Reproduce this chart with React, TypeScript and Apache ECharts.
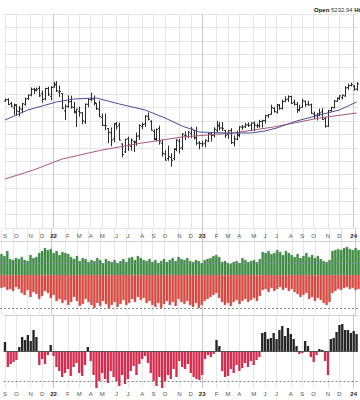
import React, { useEffect, useRef } from "react";
import * as echarts from "echarts";

// ---- categories: weekly bars, week starting Monday ----
const START = Date.UTC(2021, 7, 30);
const DAY = 86400000;
const N_WEEKS = 124;
const weekDates: string[] = Array.from({ length: N_WEEKS }, (_, i) =>
  new Date(START + i * 7 * DAY).toISOString().slice(0, 10)
);
const MONTH_LETTERS = ["J", "F", "M", "A", "M", "J", "J", "A", "S", "O", "N", "D"];
const monthLabels: string[] = weekDates.map((d) => {
  const t0 = Date.parse(d + "T00:00:00Z");
  for (let k = 0; k < 7; k++) {
    const dd = new Date(t0 + k * DAY);
    if (dd.getUTCDate() === 1)
      return dd.getUTCMonth() === 0 ? String(dd.getUTCFullYear()).slice(2) : MONTH_LETTERS[dd.getUTCMonth()];
  }
  return "";
});

// ---- weekly OHLC ----
const opens = [4513,4535,4474,4402,4442,4348,4385,4463,4553,4610,4701,4689,4712,4628,4548,4710,4588,4733,4778,4655,4632,4357,4431,4505,4412,4332,4354,4328,4188,4462,4541,4547,4474,4385,4255,4130,4082,4014,3920,4151,4134,3839,3715,3920,3800,3880,3883,3965,4112,4155,4271,4195,4035,3910,4084,3849,3682,3610,3627,3609,3762,3882,3780,3977,3956,4005,4052,3939,3854,3843,3853,3884,3996,3979,4055,4119,4091,4051,3992,4055,3855,3917,3983,4103,4110,4140,4134,4166,4124,4126,4190,4206,4282,4308,4396,4337,4450,4394,4508,4543,4585,4492,4461,4380,4416,4511,4464,4454,4310,4284,4289,4343,4239,4120,4364,4407,4509,4555,4564,4593,4725,4759,4745,4703];
const highs = [4545,4549,4492,4465,4457,4429,4475,4559,4608,4718,4714,4718,4743,4672,4713,4731,4741,4808,4818,4749,4632,4453,4595,4590,4490,4386,4416,4330,4465,4546,4637,4593,4475,4513,4308,4308,4082,4090,4158,4178,4168,3839,3913,3946,3918,3880,4012,4140,4167,4280,4325,4203,4062,4076,4119,3906,3736,3807,3685,3764,3906,3911,4001,4028,4034,4100,4053,4101,3877,3878,3906,4003,4015,4094,4195,4176,4176,4051,4049,4079,3965,4040,4110,4133,4163,4170,4170,4186,4154,4212,4212,4290,4299,4448,4408,4458,4456,4527,4578,4595,4588,4527,4491,4448,4541,4514,4511,4466,4338,4319,4386,4394,4256,4366,4415,4521,4560,4595,4609,4739,4778,4793,4755,4802];
const lows = [4513,4458,4427,4306,4288,4279,4329,4448,4537,4595,4630,4672,4585,4495,4532,4600,4531,4733,4662,4582,4395,4223,4415,4401,4327,4114,4276,4157,4161,4424,4517,4450,4381,4267,4128,4062,3859,3811,3875,4074,3900,3637,3705,3738,3742,3722,3818,3910,4079,4112,4218,4057,3907,3887,3837,3647,3585,3584,3491,3590,3733,3698,3750,3906,3938,3938,3918,3827,3764,3800,3794,3877,3885,3949,4021,4060,4048,3943,3928,3847,3808,3905,3951,4069,4098,4114,4049,4048,4099,4103,4103,4166,4258,4305,4341,4328,4384,4389,4505,4507,4474,4450,4335,4357,4415,4431,4447,4317,4238,4216,4283,4223,4104,4113,4354,4406,4507,4538,4547,4588,4695,4751,4682,4681];
const closes = [4535,4459,4433,4455,4357,4391,4471,4545,4605,4697,4682,4698,4595,4538,4712,4620,4726,4766,4677,4663,4398,4432,4501,4419,4349,4385,4329,4204,4463,4543,4546,4488,4393,4272,4132,4123,4024,3901,4158,4109,3901,3675,3912,3825,3899,3863,3962,4130,4145,4280,4228,4057,3924,4067,3873,3693,3586,3640,3583,3753,3901,3771,3993,3965,4026,4072,3934,3852,3845,3840,3895,3999,3973,4071,4136,4090,4079,3970,4046,3862,3917,3971,4109,4105,4138,4133,4169,4136,4124,4192,4205,4282,4299,4410,4348,4450,4399,4505,4536,4582,4478,4464,4370,4406,4515,4457,4450,4320,4288,4309,4327,4224,4117,4358,4415,4514,4559,4595,4604,4719,4755,4770,4697,4784];

// ---- moving averages: [week index, value] ----
const blueMA = [[0,4216],[8,4373],[18,4498],[24,4545],[32,4561],[40,4467],[49,4373],[56,4247],[62,4121],[68,4027],[77,4012],[86,4012],[91,4043],[95,4090],[102,4200],[110,4294],[117,4373],[123,4498]];
const redMA = [[0,3289],[10,3431],[20,3603],[34,3745],[48,3855],[62,3949],[80,4012],[94,4106],[110,4247],[123,4326]];

// ---- middle panel ----
const upPart = [21,19,24,16,15,17,16,18,15,14,20,17,18,22,24,27,25,26,22,24,20,23,22,21,18,16,19,14,17,16,13,15,14,17,15,12,16,14,13,15,12,14,16,13,17,18,15,19,17,15,14,16,13,15,12,14,16,13,15,17,14,18,16,15,17,14,13,15,14,12,15,16,17,19,20,18,13,14,12,11,13,14,12,17,15,13,14,15,13,16,23,22,24,21,22,25,23,20,24,22,20,18,21,17,19,22,18,20,17,19,16,14,13,15,24,25,26,25,27,28,26,25,27,25];
const downPart = [13,12,15,14,16,12,14,18,20,15,22,17,19,24,21,16,18,23,20,26,24,28,25,30,27,22,26,31,29,24,27,30,33,28,31,26,29,33,30,27,32,29,25,30,28,24,27,22,25,23,28,26,30,32,28,33,29,26,30,27,31,24,27,29,26,30,32,28,33,30,26,24,22,20,18,23,27,30,28,31,27,25,29,26,24,27,25,23,26,21,15,14,17,13,16,14,12,15,13,16,14,17,19,22,20,18,24,22,26,23,25,28,30,27,18,16,14,15,13,12,14,13,15,14];

// ---- bottom oscillator ----
const osc = [9,-16,-13,-11,-9,4,14,11,16,10,21,14,-14,-8,-13,-4,6,-5,-16,-20,-26,-22,-18,-25,-16,-12,-22,-25,-14,4,-10,-24,-37,-30,-22,-28,-32,-20,-26,-30,-35,-24,-33,-28,-20,-15,-24,-13,-8,-5,-12,-22,-30,-35,-26,-37,-30,-24,-28,-18,-26,-10,-16,-18,-13,-22,-26,-28,-29,-24,-8,-4,-6,-3,11,5,-20,-26,-25,-18,-22,-14,-20,-17,-12,-16,-10,-14,-9,-6,18,19,12,13,18,12,21,25,15,23,17,12,5,-3,-2,10,5,-6,-11,-4,2,1,-10,-24,12,13,19,26,27,21,21,18,20,17];

const FONT = "'Liberation Sans', Arial, sans-serif";

const monthIdx = monthLabels.map((l, i) => (l ? i : -1)).filter((i) => i >= 0);
const vLines = monthIdx.map((i) => ({
  xAxis: weekDates[i],
  lineStyle: { color: monthLabels[i].length === 2 ? "#c8c8c8" : "#e6e6e6", width: 1, type: "solid" },
}));

const baseMark = { symbol: ["none", "none"], silent: true, label: { show: false }, animation: false };

export default function App() {
  const ref = useRef<HTMLDivElement>(null);
  useEffect(() => {
    if (!ref.current) return;
    const chart = echarts.init(ref.current, null, { renderer: "svg" });
    const xBase = (gi: number, showLabels: boolean, margin: number) => ({
      type: "category",
      gridIndex: gi,
      data: weekDates,
      boundaryGap: true,
      z: 10,
      axisLine: { show: false },
      axisTick: { show: false },
      splitLine: { show: false },
      axisLabel: {
        show: showLabels,
        interval: (i: number) => monthLabels[i] !== "",
        formatter: (_v: string, i: number) => (monthLabels[i].length === 2 ? `{y|${monthLabels[i]}}` : monthLabels[i]),
        margin,
        fontSize: 6,
        fontFamily: FONT,
        color: "#555",
        rich: { y: { fontWeight: "bold", fontSize: 6, color: "#222", fontFamily: FONT } },
      },
    });
    chart.setOption({
      animation: false,
      backgroundColor: "#fff",
      grid: [
        { left: 0, right: 0, top: 14, height: 214 },
        { left: 0, right: 0, top: 229, height: 85 },
        { left: 0, right: 0, top: 314, height: 74 },
      ],
      xAxis: [xBase(0, true, 5), xBase(1, false, 0), xBase(2, true, 3)],
      yAxis: [
        {
          type: "value", gridIndex: 0, min: 2520, max: 5880, interval: 210,
          axisLabel: { show: false }, axisLine: { show: false }, axisTick: { show: false },
          splitLine: { show: true, lineStyle: { color: "#e4e4e4", width: 1 } },
        },
        {
          type: "value", gridIndex: 1, min: -39, max: 46,
          axisLabel: { show: false }, axisLine: { show: false }, axisTick: { show: false }, splitLine: { show: false },
        },
        {
          type: "value", gridIndex: 2, min: -37, max: 37,
          axisLabel: { show: false }, axisLine: { show: false }, axisTick: { show: false }, splitLine: { show: false },
        },
      ],
      graphic: [
        {
          type: "text", left: 314, top: 7, z: 20,
          style: {
            text: "{b|Open} 5232.94 {b|High}",
            fontSize: 6, fontFamily: FONT, fill: "#333",
            rich: { b: { fontWeight: "bold", fontSize: 6, fontFamily: FONT, fill: "#111" } },
          },
        },
      ],
      series: [
        {
          type: "line", xAxisIndex: 0, yAxisIndex: 0, data: redMA, symbol: "none", showSymbol: false, z: 4,
          lineStyle: { color: "#a8587c", width: 1 }, silent: true,
        },
        {
          type: "line", xAxisIndex: 0, yAxisIndex: 0, data: blueMA, symbol: "none", showSymbol: false, z: 4,
          lineStyle: { color: "#4c4e98", width: 1 }, silent: true,
          markLine: { ...baseMark, z: 1, data: vLines },
        },
        {
          type: "custom", xAxisIndex: 0, yAxisIndex: 0, z: 3, silent: true,
          data: weekDates.map((_, i) => [i, opens[i], highs[i], lows[i], closes[i]]),
          encode: { x: 0, y: [1, 2, 3, 4] },
          renderItem: (_p: any, api: any) => {
            const i = api.value(0);
            const pO = api.coord([i, api.value(1)]);
            const pH = api.coord([i, api.value(2)]);
            const pL = api.coord([i, api.value(3)]);
            const pC = api.coord([i, api.value(4)]);
            const x = Math.round(pO[0]) + 0.5;
            const st = { stroke: "#2a2a2a", lineWidth: 1 };
            return {
              type: "group",
              children: [
                { type: "line", shape: { x1: x, y1: pH[1] - 0.5, x2: x, y2: pL[1] + 0.5 }, style: st },
                { type: "line", shape: { x1: x - 1.5, y1: pO[1], x2: x, y2: pO[1] }, style: st },
                { type: "line", shape: { x1: x, y1: pC[1], x2: x + 1.5, y2: pC[1] }, style: st },
              ],
            };
          },
        },
        {
          type: "bar", xAxisIndex: 1, yAxisIndex: 1, stack: "br", data: upPart, barCategoryGap: "18%", z: 2,
          itemStyle: { color: "#3b9440", borderColor: "#2a6a2e", borderWidth: 0.4 }, silent: true,
          markLine: {
            ...baseMark, z: 1,
            data: [...vLines, { yAxis: 34, lineStyle: { color: "#d0d0d0", width: 1, type: "solid" } }],
          },
        },
        {
          type: "bar", xAxisIndex: 1, yAxisIndex: 1, stack: "br", data: downPart.map((v) => -v), barCategoryGap: "18%", z: 2,
          itemStyle: { color: "#e8453b", borderColor: "#a8403a", borderWidth: 0.4 }, silent: true,
          markLine: {
            ...baseMark, z: 6,
            data: [
              { yAxis: 12, lineStyle: { color: "#7d8aa8", width: 0.8, type: "dashed" } },
              { yAxis: -33, lineStyle: { color: "#666", width: 0.8, type: [2, 2] } },
            ],
          },
        },
        {
          type: "bar", xAxisIndex: 2, yAxisIndex: 2, stack: "os", data: osc.map((v) => (v > 0 ? v : "-")), barCategoryGap: "18%", z: 2,
          itemStyle: { color: "#252525" }, silent: true,
          markLine: {
            ...baseMark, z: 1,
            data: [...vLines, { yAxis: 36, lineStyle: { color: "#d0d0d0", width: 1, type: "solid" } }],
          },
        },
        {
          type: "bar", xAxisIndex: 2, yAxisIndex: 2, stack: "os", data: osc.map((v) => (v < 0 ? v : "-")), barCategoryGap: "18%", z: 2,
          itemStyle: { color: "#d42b4e" }, silent: true,
          markLine: {
            ...baseMark, z: 6,
            data: [
              { yAxis: 0, lineStyle: { color: "#555", width: 1, type: "solid" } },
              { yAxis: -30, lineStyle: { color: "#666", width: 0.8, type: [2, 2] } },
            ],
          },
        },
      ],
    });
    return () => chart.dispose();
  }, []);
  return <div ref={ref} style={{ position: "absolute", left: 0, top: 0, width: 360, height: 400 }} />;
}
